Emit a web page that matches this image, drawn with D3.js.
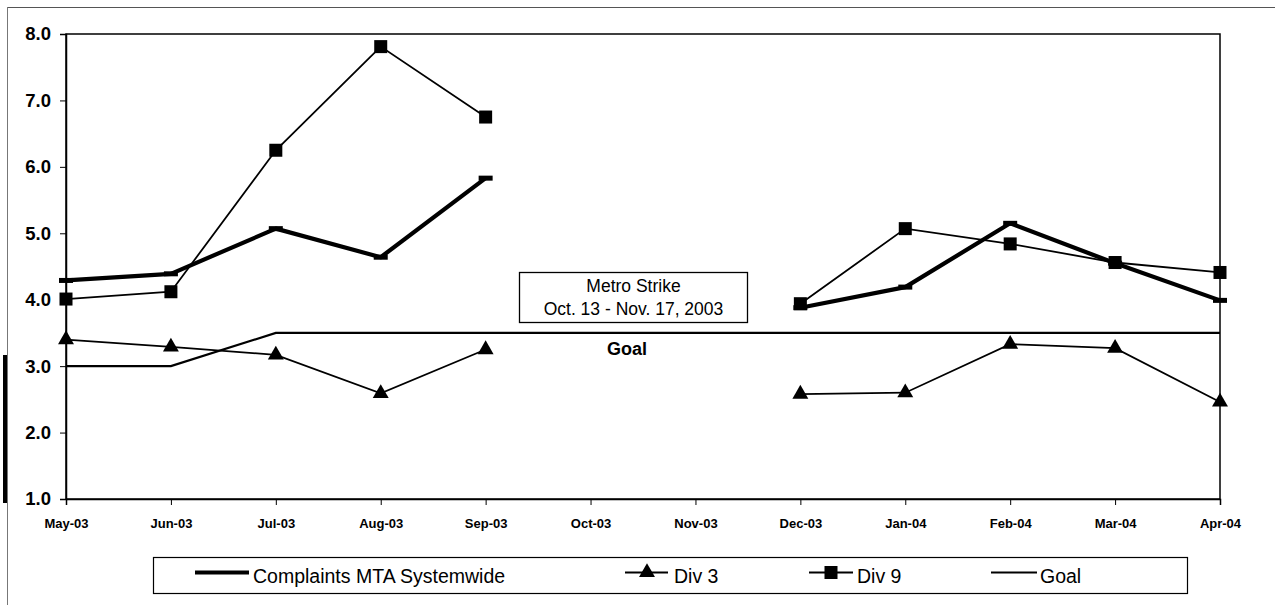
<!DOCTYPE html>
<html>
<head>
<meta charset="utf-8">
<script src="https://cdn.jsdelivr.net/npm/d3@7"></script>
<style>
  html, body { margin: 0; padding: 0; background: #fff; }
  svg { display: block; font-family: "Liberation Sans", Arial, sans-serif; }
</style>
</head>
<body>
<svg id="chart" width="1275" height="605"></svg>
<script>
const months = ["May-03","Jun-03","Jul-03","Aug-03","Sep-03","Oct-03","Nov-03","Dec-03","Jan-04","Feb-04","Mar-04","Apr-04"];
const systemwide = [4.29, 4.39, 5.07, 4.64, 5.83, null, null, 3.88, 4.19, 5.15, 4.55, 3.99];
const div3 = [3.40, 3.29, 3.17, 2.59, 3.25, null, null, 2.58, 2.60, 3.33, 3.27, 2.46];
const div9 = [4.01, 4.12, 6.25, 7.81, 6.75, null, null, 3.94, 5.07, 4.84, 4.56, 4.41];
const goal = [3.0, 3.0, 3.5, 3.5, 3.5, 3.5, 3.5, 3.5, 3.5, 3.5, 3.5, 3.5];
const yTicks = [1, 2, 3, 4, 5, 6, 7, 8];
const seriesNames = ["Complaints MTA Systemwide", "Div 3", "Div 9", "Goal"];
const noteLines = ["Metro Strike", "Oct. 13 - Nov. 17, 2003"];
const goalLabel = "Goal";

const svg = d3.select("#chart");
const L = 66, R = 1220, T = 34, B = 499;
const x = d3.scalePoint().domain(months).range([L, R]);
const y = d3.scaleLinear().domain([1, 8]).range([B, T]);

// outer frame (scan border)
svg.append("line").attr("x1", 7).attr("x2", 1275).attr("y1", 7.5).attr("y2", 7.5).attr("stroke", "#555").attr("stroke-width", 1);
svg.append("line").attr("x1", 7.5).attr("x2", 7.5).attr("y1", 7).attr("y2", 605).attr("stroke", "#777").attr("stroke-width", 1);
svg.append("rect").attr("x", 3).attr("y", 355).attr("width", 4).attr("height", 148).attr("fill", "#000");

// plot border
svg.append("rect").attr("x", L).attr("y", T).attr("width", R - L).attr("height", B - T)
  .attr("fill", "none").attr("stroke", "#000").attr("stroke-width", 1.5);

// y axis
const yAxis = svg.append("g").attr("transform", `translate(${L},0)`)
  .call(d3.axisLeft(y).tickValues(yTicks).tickFormat(d3.format(".1f")).tickSizeOuter(0).tickSize(6).tickPadding(9));
yAxis.select(".domain").attr("stroke", "#000").attr("stroke-width", 1.5);
yAxis.selectAll("text").attr("font-size", 18.5).attr("font-weight", "bold").attr("fill", "#000")
  .attr("font-family", "Liberation Sans, Arial, sans-serif");

// x axis
const xAxis = svg.append("g").attr("transform", `translate(0,${B})`)
  .call(d3.axisBottom(x).tickSizeOuter(0).tickSize(6).tickPadding(14));
xAxis.select(".domain").attr("stroke", "#000").attr("stroke-width", 1.5);
xAxis.selectAll("text").attr("font-size", 13).attr("font-weight", "bold").attr("fill", "#000")
  .attr("font-family", "Liberation Sans, Arial, sans-serif");

const line = d3.line().defined(d => d != null).x((d, i) => x(months[i])).y(d => y(d));

// Goal
svg.append("path").datum(goal).attr("d", line).attr("fill", "none").attr("stroke", "#000").attr("stroke-width", 2.2);

// Systemwide (thick)
svg.append("path").datum(systemwide).attr("d", line).attr("fill", "none").attr("stroke", "#000")
  .attr("stroke-width", 4.2).attr("stroke-linejoin", "round");
svg.append("g").selectAll("rect").data(systemwide.map((v, i) => ({v, m: months[i]})).filter(d => d.v != null))
  .join("rect").attr("x", d => x(d.m) - 7).attr("y", d => y(d.v) - 2.5).attr("width", 14).attr("height", 5).attr("fill", "#000");

// Div 3
svg.append("path").datum(div3).attr("d", line).attr("fill", "none").attr("stroke", "#000").attr("stroke-width", 1.8);
const tri = d3.symbol().type(d3.symbolTriangle).size(110);
svg.append("g").selectAll("path").data(div3.map((v, i) => ({v, m: months[i]})).filter(d => d.v != null))
  .join("path").attr("d", tri).attr("transform", d => `translate(${x(d.m)},${y(d.v)})`).attr("fill", "#000");

// Div 9
svg.append("path").datum(div9).attr("d", line).attr("fill", "none").attr("stroke", "#000").attr("stroke-width", 1.8);
svg.append("g").selectAll("rect").data(div9.map((v, i) => ({v, m: months[i]})).filter(d => d.v != null))
  .join("rect").attr("x", d => x(d.m) - 6.5).attr("y", d => y(d.v) - 6.5).attr("width", 13).attr("height", 13).attr("fill", "#000");

// Goal label
svg.append("text").attr("x", 627).attr("y", 355).attr("text-anchor", "middle")
  .attr("font-size", 18).attr("font-weight", "bold").text(goalLabel);

// Strike note box
const note = svg.append("g");
note.append("rect").attr("x", 519.5).attr("y", 272.5).attr("width", 228).attr("height", 50)
  .attr("fill", "#fff").attr("stroke", "#000").attr("stroke-width", 1.3);
noteLines.forEach((t, i) => {
  note.append("text").attr("x", 633.5).attr("y", 292 + i * 23).attr("text-anchor", "middle")
    .attr("font-size", 17.5).text(t);
});

// Legend
const lg = svg.append("g");
lg.append("rect").attr("x", 153.5).attr("y", 557.5).attr("width", 1034).attr("height", 36)
  .attr("fill", "#fff").attr("stroke", "#000").attr("stroke-width", 1.2);
const ly = 575.5;
// Systemwide
lg.append("line").attr("x1", 195).attr("x2", 249).attr("y1", ly - 3).attr("y2", ly - 3).attr("stroke", "#000").attr("stroke-width", 4.2);
lg.append("text").attr("x", 253).attr("y", ly + 7.5).attr("font-size", 19.5).text(seriesNames[0]);
// Div 3
lg.append("line").attr("x1", 625).attr("x2", 668).attr("y1", ly - 3).attr("y2", ly - 3).attr("stroke", "#000").attr("stroke-width", 1.8);
lg.append("path").attr("d", tri).attr("transform", `translate(647,${ly - 3})`).attr("fill", "#000");
lg.append("text").attr("x", 674).attr("y", ly + 7.5).attr("font-size", 19.5).text(seriesNames[1]);
// Div 9
lg.append("line").attr("x1", 809).attr("x2", 853).attr("y1", ly - 3).attr("y2", ly - 3).attr("stroke", "#000").attr("stroke-width", 1.8);
lg.append("rect").attr("x", 831 - 6.5).attr("y", ly - 3 - 6.5).attr("width", 13).attr("height", 13).attr("fill", "#000");
lg.append("text").attr("x", 857).attr("y", ly + 7.5).attr("font-size", 19.5).text(seriesNames[2]);
// Goal
lg.append("line").attr("x1", 991).attr("x2", 1037).attr("y1", ly - 3).attr("y2", ly - 3).attr("stroke", "#000").attr("stroke-width", 2.2);
lg.append("text").attr("x", 1040).attr("y", ly + 7.5).attr("font-size", 19.5).text(seriesNames[3]);
</script>
</body>
</html>
